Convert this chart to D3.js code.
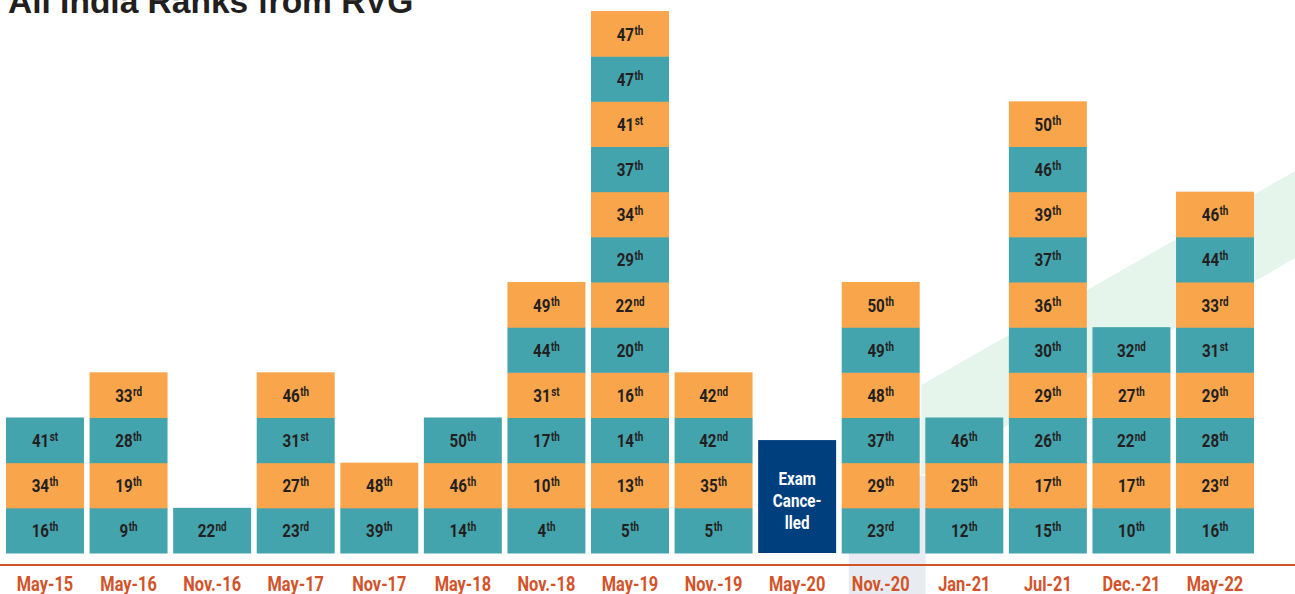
<!DOCTYPE html>
<html>
<head>
<meta charset="utf-8">
<script src="https://cdn.jsdelivr.net/npm/d3@7/dist/d3.min.js"></script>
<style>
  html, body { margin: 0; padding: 0; background: #ffffff; }
  svg { display: block; }
  .cond { font-family: Roboto, "Liberation Sans", sans-serif; font-weight: bold; }
</style>
</head>
<body>
<svg id="chart" width="1295" height="594"></svg>
<script>
// ---------- data ----------
const categories = ["May-15","May-16","Nov.-16","May-17","Nov-17","May-18","Nov.-18","May-19","Nov.-19","May-20","Nov.-20","Jan-21","Jul-21","Dec.-21","May-22"];
const ranks = [
  [16, 34, 41],
  [9, 19, 28, 33],
  [22],
  [23, 27, 31, 46],
  [39, 48],
  [14, 46, 50],
  [4, 10, 17, 31, 44, 49],
  [5, 13, 14, 16, 20, 22, 29, 34, 37, 41, 47, 47],
  [5, 35, 42, 42],
  [],
  [23, 29, 37, 48, 49, 50],
  [12, 25, 46],
  [15, 17, 26, 29, 30, 36, 37, 39, 46, 50],
  [10, 17, 22, 27, 32],
  [16, 23, 28, 29, 31, 33, 44, 46]
];
const cancelledCategory = "May-20";
const cancelledHeight = 2.5;           // in cell units
const cancelledLines = ["Exam", "Cance-", "lled"];
const highlightCategory = "Nov.-20";
const titleText = "All India Ranks from RVG";
const maxCells = 12;

// ---------- styles ----------
const teal = "#44a4ae", orange = "#f9a54b", navy = "#003f7e";
const textDark = "#231f20", axisColor = "#d2532a";
const condense = 0.82;

const svg = d3.select("#chart");
const W = 1295, H = 594;

const x = d3.scaleBand().domain(categories).range([3.2, 1256.8]).paddingInner(0.067).paddingOuter(0.0335);
const y = d3.scaleLinear().domain([0, maxCells]).range([553, 11]);

function suffix(n) {
  const m100 = n % 100;
  if (m100 >= 11 && m100 <= 13) return "th";
  const m = n % 10;
  return m === 1 ? "st" : m === 2 ? "nd" : m === 3 ? "rd" : "th";
}

// highlight column behind Nov.-20
svg.append("rect")
  .attr("x", x(highlightCategory) + 7)
  .attr("y", 476)
  .attr("width", x.bandwidth() - 1)
  .attr("height", H - 476)
  .attr("fill", "#e8ecf2");

// decorative green band
const bx0 = x("Jan-21") - 4;
svg.append("path")
  .attr("d", `M${bx0},385 L${W},171 L${W},258 L${bx0},476 Z`)
  .attr("fill", "#e5f5ec");

// title
svg.append("text")
  .attr("x", 8).attr("y", 13)
  .attr("font-family", "'Liberation Sans', Arial, sans-serif")
  .attr("font-weight", "bold")
  .attr("font-size", 33.5)
  .attr("fill", textDark)
  .text(titleText);

// cells
const cells = [];
categories.forEach((c, i) => {
  ranks[i].forEach((r, j) => cells.push({ cat: c, idx: j, rank: r }));
});

const g = svg.append("g");
const cg = g.selectAll("g.cell").data(cells).join("g").attr("class", "cell");
cg.append("rect")
  .attr("x", d => x(d.cat))
  .attr("y", d => y(d.idx + 1))
  .attr("width", x.bandwidth())
  .attr("height", d => y(d.idx) - y(d.idx + 1) + 0.5)
  .attr("fill", d => d.idx % 2 === 0 ? teal : orange);

const t = cg.append("text")
  .attr("class", "cond")
  .attr("transform", d => `translate(${x(d.cat) + x.bandwidth() / 2},${(y(d.idx) + y(d.idx + 1)) / 2 + 7}) scale(${condense},1)`)
  .attr("text-anchor", "middle")
  .attr("fill", textDark)
  .attr("font-size", 18.5);
t.append("tspan").text(d => d.rank);
t.append("tspan").attr("font-size", 12).attr("dy", -6).attr("dx", 0.5).text(d => suffix(d.rank));

// exam cancelled
svg.append("rect")
  .attr("x", x(cancelledCategory))
  .attr("y", y(cancelledHeight))
  .attr("width", x.bandwidth())
  .attr("height", y(0) - y(cancelledHeight))
  .attr("fill", navy);
svg.append("g")
  .selectAll("text").data(cancelledLines).join("text")
  .attr("class", "cond")
  .attr("text-anchor", "middle")
  .attr("fill", "#ffffff")
  .attr("font-size", 18.5)
  .attr("transform", (d, i) => `translate(${x(cancelledCategory) + x.bandwidth() / 2},${485 + i * 21.8}) scale(${condense},1)`)
  .text(d => d);

// axis
const axisY = 565;
svg.append("line")
  .attr("x1", 0).attr("x2", W)
  .attr("y1", axisY).attr("y2", axisY)
  .attr("stroke", axisColor).attr("stroke-width", 2.2);

const axis = d3.axisBottom(x).tickSize(0).tickPadding(0);
const ag = svg.append("g").attr("transform", `translate(0,${axisY})`).call(axis);
ag.select(".domain").remove();
ag.selectAll("text")
  .attr("class", "cond")
  .attr("font-size", 19.5)
  .attr("fill", axisColor)
  .attr("dy", null)
  .attr("y", 0)
  .attr("transform", `translate(0,25.5) scale(0.84,1)`);
</script>
</body>
</html>
